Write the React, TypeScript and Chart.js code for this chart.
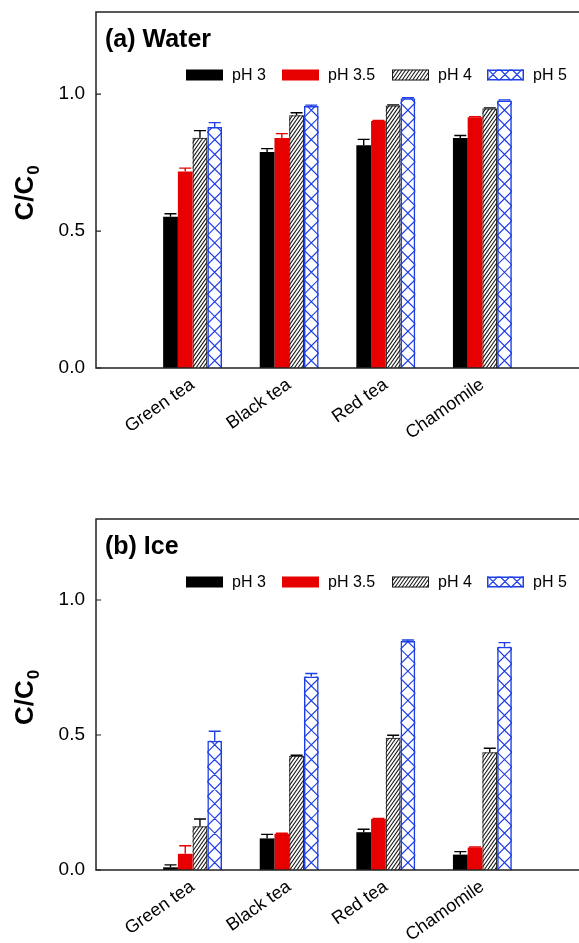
import React, { useEffect, useRef } from 'react';
import { Chart, registerables } from 'chart.js';

Chart.register(...registerables);

// ---------- data ----------
const categories = ['Green tea', 'Black tea', 'Red tea', 'Chamomile'];
const seriesLabels = ['pH 3', 'pH 3.5', 'pH 4', 'pH 5'];
const yTicks = [0, 0.5, 1.0];

const waterPH3 = [0.552, 0.789, 0.813, 0.84];
const waterPH35 = [0.718, 0.84, 0.902, 0.916];
const waterPH4 = [0.841, 0.923, 0.959, 0.948];
const waterPH5 = [0.88, 0.957, 0.985, 0.977];
const waterErr3 = [0.011, 0.012, 0.022, 0.009];
const waterErr35 = [0.012, 0.016, 0.002, 0.002];
const waterErr4 = [0.026, 0.009, 0.002, 0.002];
const waterErr5 = [0.016, 0.003, 0.002, 0.002];

const icePH3 = [0.01, 0.117, 0.14, 0.057];
const icePH35 = [0.06, 0.134, 0.189, 0.083];
const icePH4 = [0.162, 0.423, 0.49, 0.436];
const icePH5 = [0.479, 0.717, 0.848, 0.827];
const iceErr3 = [0.009, 0.015, 0.011, 0.011];
const iceErr35 = [0.03, 0.002, 0.002, 0.002];
const iceErr4 = [0.027, 0.002, 0.009, 0.015];
const iceErr5 = [0.035, 0.011, 0.004, 0.015];

// ---------- styles ----------
const FONT = '"Liberation Sans", Arial, Helvetica, sans-serif';
const BLACK = '#000000';
const RED = '#e60000';
const BLUE = '#1f3fe6';
const HATCH = '#1a1a1a';
const AXIS = '#222222';
const seriesFill = [BLACK, RED, 'rgba(0,0,0,0)', 'rgba(0,0,0,0)'];
const seriesBorder = [BLACK, RED, HATCH, BLUE];
const seriesBorderW = [0, 0, 1, 1.5];
const errColor = [BLACK, RED, BLACK, BLUE];

type Panel = {
  title: string;
  values: number[][];
  errors: number[][];
  top: number;
  height: number;
  padTop: number;
  axisH: number;
};

const panels: Panel[] = [
  {
    title: '(a) Water',
    values: [waterPH3, waterPH35, waterPH4, waterPH5],
    errors: [waterErr3, waterErr35, waterErr4, waterErr5],
    top: 0,
    height: 470,
    padTop: 12,
    axisH: 102,
  },
  {
    title: '(b) Ice',
    values: [icePH3, icePH35, icePH4, icePH5],
    errors: [iceErr3, iceErr35, iceErr4, iceErr5],
    top: 475,
    height: 468,
    padTop: 44,
    axisH: 73,
  },
];

function drawHatch(ctx: CanvasRenderingContext2D, x: number, y: number, w: number, h: number) {
  if (h <= 0) return;
  ctx.save();
  ctx.beginPath();
  ctx.rect(x, y, w, h);
  ctx.clip();
  ctx.strokeStyle = HATCH;
  ctx.lineWidth = 1.1;
  const step = 3.5;
  const k = 0.7;
  ctx.beginPath();
  for (let s = -h * k - step; s < w + step; s += step) {
    ctx.moveTo(x + s, y + h);
    ctx.lineTo(x + s + h * k, y);
  }
  ctx.stroke();
  ctx.restore();
}

function drawCross(ctx: CanvasRenderingContext2D, x: number, y: number, w: number, h: number, p: number) {
  if (h <= 0) return;
  ctx.save();
  ctx.beginPath();
  ctx.rect(x, y, w, h);
  ctx.clip();
  ctx.strokeStyle = BLUE;
  ctx.lineWidth = 1.2;
  const bottom = y + h;
  const H = h + w + p;
  const n = Math.ceil(H / p) + 2;
  ctx.beginPath();
  for (let k = -n; k <= n; k++) {
    const sx = x + k * p;
    ctx.moveTo(sx, bottom);
    ctx.lineTo(sx + H, bottom - H);
    ctx.moveTo(sx, bottom);
    ctx.lineTo(sx - H, bottom - H);
  }
  ctx.stroke();
  ctx.restore();
}

function makePlugin(panel: Panel) {
  return {
    id: 'panelDecor',
    beforeDatasetsDraw(chart: any) {
      const ctx: CanvasRenderingContext2D = chart.ctx;
      [2, 3].forEach((di) => {
        const meta = chart.getDatasetMeta(di);
        meta.data.forEach((el: any, idx: number) => {
          const v = chart.data.datasets[di].data[idx];
          if (v == null) return;
          const p = el.getProps(['x', 'y', 'base', 'width'], true);
          const left = p.x - p.width / 2;
          const h = p.base - p.y;
          if (di === 2) drawHatch(ctx, left, p.y, p.width, h);
          else drawCross(ctx, left, p.y, p.width, h, p.width);
        });
      });
    },
    afterDatasetsDraw(chart: any) {
      const ctx: CanvasRenderingContext2D = chart.ctx;
      const ys = chart.scales.y;
      ctx.save();
      panel.values.forEach((vals, di) => {
        const meta = chart.getDatasetMeta(di);
        vals.forEach((v, i) => {
          const el: any = meta.data[i + 1];
          if (!el) return;
          const e = panel.errors[di][i];
          const x = el.x;
          const y1 = ys.getPixelForValue(v);
          const y2 = ys.getPixelForValue(v + e);
          ctx.strokeStyle = errColor[di];
          ctx.lineWidth = 1.4;
          ctx.beginPath();
          ctx.moveTo(x, y1);
          ctx.lineTo(x, y2);
          ctx.moveTo(x - 6, y2);
          ctx.lineTo(x + 6, y2);
          ctx.stroke();
        });
      });
      ctx.restore();
    },
    afterDraw(chart: any) {
      const ctx: CanvasRenderingContext2D = chart.ctx;
      const a = chart.chartArea;
      const ys = chart.scales.y;
      ctx.save();
      // frame
      ctx.strokeStyle = AXIS;
      ctx.lineWidth = 1.5;
      ctx.beginPath();
      ctx.moveTo(a.right + 2, a.top);
      ctx.lineTo(a.left, a.top);
      ctx.lineTo(a.left, a.bottom);
      ctx.lineTo(a.right + 2, a.bottom);
      ctx.stroke();
      // inward y ticks
      ctx.lineWidth = 1.2;
      ctx.beginPath();
      yTicks.forEach((t) => {
        const py = ys.getPixelForValue(t);
        ctx.moveTo(a.left, py);
        ctx.lineTo(a.left + 5, py);
      });
      ctx.stroke();
      // panel title
      ctx.fillStyle = '#000';
      ctx.font = `bold 25px ${FONT}`;
      ctx.textAlign = 'left';
      ctx.textBaseline = 'alphabetic';
      ctx.fillText(panel.title, a.left + 9, a.top + 35);
      // legend
      const boxX = [90, 186, 296, 391];
      const cy = a.top + 63;
      const bw = 37;
      const bh = 11;
      ctx.font = `16px ${FONT}`;
      ctx.textBaseline = 'middle';
      seriesLabels.forEach((lab, i) => {
        const bx = a.left + boxX[i];
        const by = cy - bh / 2;
        if (i < 2) {
          ctx.fillStyle = seriesFill[i];
          ctx.fillRect(bx, by, bw, bh);
        } else if (i === 2) {
          drawHatch(ctx, bx, by, bw, bh);
          ctx.strokeStyle = HATCH;
          ctx.lineWidth = 1;
          ctx.strokeRect(bx + 0.5, by + 0.5, bw - 1, bh - 1);
        } else {
          drawCross(ctx, bx, by, bw, bh, 12);
          ctx.strokeStyle = BLUE;
          ctx.lineWidth = 1.5;
          ctx.strokeRect(bx + 0.75, by + 0.75, bw - 1.5, bh - 1.5);
        }
        ctx.fillStyle = '#000';
        ctx.fillText(lab, bx + 46, cy + 1);
      });
      // y-axis title C/C0
      const cyMid = (a.top + a.bottom) / 2 + 3;
      ctx.translate(33, cyMid);
      ctx.rotate(-Math.PI / 2);
      ctx.font = `bold 26px ${FONT}`;
      ctx.textBaseline = 'alphabetic';
      ctx.textAlign = 'left';
      const main = 'C/C';
      const wMain = ctx.measureText(main).width;
      ctx.font = `bold 17px ${FONT}`;
      const wSub = ctx.measureText('0').width;
      const start = -(wMain + wSub + 1) / 2;
      ctx.font = `bold 26px ${FONT}`;
      ctx.fillText(main, start, 0);
      ctx.font = `bold 17px ${FONT}`;
      ctx.fillText('0', start + wMain + 1, 6);
      ctx.restore();
    },
  };
}

function PanelChart({ panel }: { panel: Panel }) {
  const ref = useRef<HTMLCanvasElement | null>(null);
  useEffect(() => {
    if (!ref.current) return;
    const labels = ['', ...categories, ''];
    const chart = new Chart(ref.current, {
      type: 'bar',
      data: {
        labels,
        datasets: seriesLabels.map((lab, i) => ({
          label: lab,
          data: [null, ...panel.values[i], null] as any,
          backgroundColor: seriesFill[i],
          borderColor: seriesBorder[i],
          borderWidth: seriesBorderW[i],
          categoryPercentage: 0.61,
          barPercentage: 1,
        })),
      },
      options: {
        responsive: false,
        animation: false,
        layout: { padding: { top: panel.padTop, left: 0, right: 0, bottom: 0 } },
        plugins: {
          legend: { display: false },
          tooltip: { enabled: false },
          title: { display: false },
        },
        scales: {
          x: {
            type: 'category',
            offset: false,
            grid: { display: false, drawTicks: false },
            border: { display: false },
            ticks: {
              autoSkip: false,
              maxRotation: 35,
              minRotation: 35,
              padding: 6,
              color: '#000',
              font: { family: FONT, size: 18 },
            },
            afterFit: (s: any) => {
              s.height = panel.axisH;
              s.paddingLeft = 0;
              s.paddingRight = 0;
            },
          },
          y: {
            min: 0,
            max: 1.3,
            grid: { display: false, drawTicks: false },
            border: { display: false },
            afterBuildTicks: (s: any) => {
              s.ticks = yTicks.map((v) => ({ value: v }));
            },
            ticks: {
              padding: 11,
              color: '#000',
              font: { family: FONT, size: 19 },
              callback: (v: any) => Number(v).toFixed(1),
            },
            afterFit: (s: any) => {
              s.width = 96;
              s.paddingTop = 0;
              s.paddingBottom = 0;
            },
          },
        },
      } as any,
      plugins: [makePlugin(panel)],
    });
    return () => chart.destroy();
  }, [panel]);
  return (
    <canvas
      ref={ref}
      width={579}
      height={panel.height}
      style={{ position: 'absolute', left: 0, top: panel.top, width: 579, height: panel.height, display: 'block' }}
    />
  );
}

export default function App() {
  return (
    <div style={{ position: 'absolute', left: 0, top: 0, width: 579, height: 943, overflow: 'hidden', background: '#fff' }}>
      {panels.map((p) => (
        <PanelChart key={p.title} panel={p} />
      ))}
    </div>
  );
}
